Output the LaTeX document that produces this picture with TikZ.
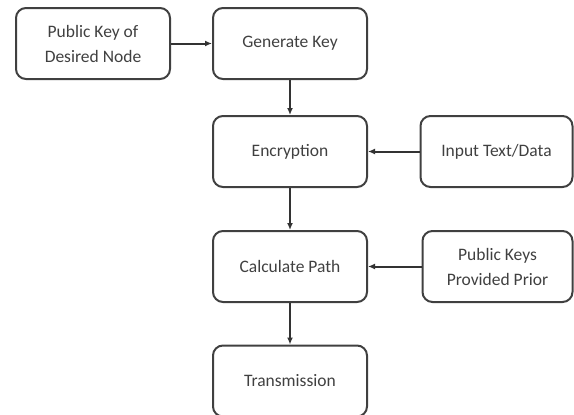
\documentclass[tikz,border=0pt]{standalone}
\usepackage{fontspec}
\setmainfont{Carlito}
\usetikzlibrary{arrows.meta}

\begin{document}
\begin{tikzpicture}[x=1pt,y=-1pt,
	block/.style={draw=black!75,line width=2pt,rounded corners=10pt,minimum width=154pt,minimum height=71pt,align=center,text=black!75,font=\fontsize{17.5}{25}\selectfont},
	flow/.style={draw=black!80,line width=2pt,-{Latex[length=7pt,width=6pt]}}]
	\useasboundingbox (0,0) rectangle (574,415);
	\node[block] (pubkey) at (93,43.5) {Public Key of\\Desired Node};
	\node[block] (genkey) at (290,43.5) {Generate Key};
	\node[block] (encrypt) at (290,151.5) {Encryption};
	\node[block,minimum width=152pt] (input) at (496.5,151.5) {Input Text/Data};
	\node[block] (calcpath) at (290,266.5) {Calculate Path};
	\node[block,minimum width=150pt] (prior) at (497.5,266.5) {Public Keys\\Provided Prior};
	\node[block] (transmit) at (290,381) {Transmission};
	\draw[flow] (pubkey) -- (genkey);
	\foreach \a/\b in {genkey/encrypt,encrypt/calcpath,calcpath/transmit,input/encrypt,prior/calcpath} \draw[flow] (\a) -- (\b);
\end{tikzpicture}
\end{document}
